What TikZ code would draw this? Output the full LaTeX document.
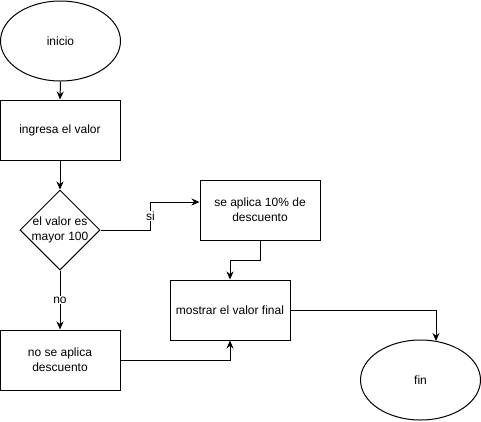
\documentclass[tikz,border=0pt]{standalone}
\usepackage{fontspec}
\setmainfont{Liberation Sans}
\usetikzlibrary{shapes.geometric,arrows.meta}
\begin{document}
\begin{tikzpicture}[x=1pt,y=-1pt,
  every node/.style={font=\fontsize{12}{15}\selectfont, text=black},
  term/.style={draw, ellipse, line width=1pt, minimum width=120pt, minimum height=80pt, inner sep=0pt},
  proc/.style={draw, rectangle, line width=1pt, minimum width=120pt, minimum height=60pt, inner sep=0pt, align=center},
  dec/.style={draw, diamond, line width=1pt, minimum width=80pt, minimum height=80pt, inner sep=0pt},
  arr/.style={draw, line width=1pt, -{Stealth[length=8pt,width=7pt]}},
  lbl/.style={fill=white, inner sep=1pt}]
\useasboundingbox (0,0) rectangle (481,421);
\node[term] (ini) at (60.5,41) {inicio};
\node[proc] (ing) at (60,130) {ingresa el valor};
\node[dec] (dec) at (60,230) {};
\node[align=center, inner sep=0pt] (dect) at (60,230) {el valor es\\mayor 100};
\node[proc] (sa) at (260,210) {se aplica 10\% de\\descuento};
\node[proc] (mos) at (230,310) {mostrar el valor final};
\node[proc] (nsa) at (60,360) {no se aplica\\descuento};
\node[term] (fin) at (420.5,380) {fin};
\draw[arr] (ini.south) -- (ing.north);
\draw[arr] (ing.south) -- (dec.north);
\draw[arr] (dec.east) -- ++(50,0) |- ([yshift=8pt]sa.west) node[lbl, pos=0.25] (si) {si};
\draw[arr] (dec.south) -- (nsa.north) node[lbl, midway] (no) {no};
\draw[arr] (sa.south) -- ++(0,20) -| (mos.north);
\draw[arr] (nsa.east) -| (mos.south);
\draw[arr] (mos.east) -| ([xshift=15.5pt,yshift=-1.5pt]fin.north);
\end{tikzpicture}
\end{document}
